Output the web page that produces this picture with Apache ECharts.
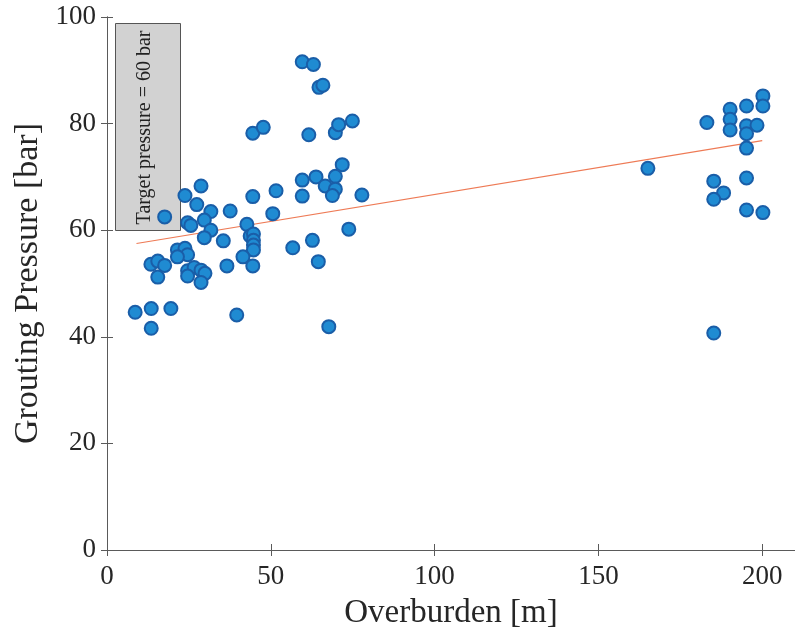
<!DOCTYPE html>
<html>
<head>
<meta charset="utf-8">
<script src="https://cdn.jsdelivr.net/npm/echarts@6/dist/echarts.min.js"></script>
<style>html,body{margin:0;padding:0;background:#fff;}#c{width:795px;height:638px;}</style>
</head>
<body>
<div id="c"></div>
<script>
const overburden = [59.6,63.0,64.7,65.9,44.5,47.7,61.6,69.7,70.7,74.9,71.8,59.6,63.8,69.7,66.6,69.7,68.8,59.6,77.8,51.6,44.5,28.7,23.8,27.4,31.7,37.6,50.6,17.6,24.6,25.6,29.7,31.7,29.7,42.7,43.7,44.7,44.7,44.7,44.7,35.5,56.7,62.7,73.8,21.5,23.8,24.6,21.5,41.5,44.5,36.6,13.4,15.5,17.6,15.5,24.6,26.6,24.6,28.7,29.9,28.7,64.5,8.6,13.5,19.5,13.5,39.6,67.7,165.1,183.1,190.2,190.2,190.2,195.2,195.2,195.2,198.4,200.2,200.2,195.2,185.2,188.2,185.2,195.2,195.2,200.2,185.2];
const pressure = [91.6,91.1,86.8,87.2,78.2,79.3,77.9,78.3,79.8,80.5,72.3,69.4,70.0,70.1,68.3,67.7,66.5,66.4,66.6,67.4,66.3,68.3,66.5,64.8,63.5,63.6,63.1,62.5,61.4,60.9,61.9,60.0,58.6,61.1,58.9,59.3,58.1,57.2,56.3,58.0,56.7,58.1,60.2,56.3,56.6,55.4,55.0,55.0,53.3,53.3,53.6,54.2,53.4,51.2,52.4,53.0,51.4,52.5,51.9,50.2,54.1,44.6,45.3,45.3,41.6,44.1,41.9,71.6,80.2,82.7,80.8,78.8,83.3,79.6,78.1,79.7,85.2,83.3,75.4,69.2,67.0,65.8,69.8,63.8,63.3,40.7];
const trendX = [9, 200];
const trendY = [57.5, 76.8];
const xTicks = [0, 50, 100, 150, 200];
const yTicks = [0, 20, 40, 60, 80, 100];
const noteText = 'Target pressure = 60 bar';

const chart = echarts.init(document.getElementById('c'));
const serif = '"Liberation Serif", "DejaVu Serif", serif';
const axisCol = '#5a5a5a';
const labelCol = '#262626';

const pts = overburden.map((x, i) => [x, pressure[i]]);
const trend = trendX.map((x, i) => [x, trendY[i]]);

chart.setOption({
  animation: false,
  backgroundColor: '#fff',
  grid: { left: 107, top: 17, right: 0, bottom: 88, containLabel: false },
  xAxis: [{
    type: 'value', min: 0, max: 210, interval: 50,
    name: 'Overburden [m]', nameLocation: 'middle', nameGap: 47,
    nameTextStyle: { fontFamily: serif, fontSize: 33, color: labelCol },
    axisLine: { show: true, lineStyle: { color: axisCol, width: 1 } },
    axisTick: { show: true, inside: true, length: 6, lineStyle: { color: axisCol }, customValues: xTicks },
    axisLabel: { fontFamily: serif, fontSize: 27, color: labelCol, margin: 13, customValues: xTicks },
    splitLine: { show: false }
  }, {
    type: 'value', min: 0, max: 210, position: 'top',
    axisLine: { show: true, lineStyle: { color: axisCol, width: 1 } },
    axisTick: { show: true, inside: true, length: 6, lineStyle: { color: axisCol }, customValues: xTicks },
    axisLabel: { show: false },
    splitLine: { show: false }
  }],
  yAxis: [{
    type: 'value', min: 0, max: 100, interval: 20,
    name: 'Grouting Pressure [bar]', nameLocation: 'middle', nameGap: 60,
    nameTextStyle: { fontFamily: serif, fontSize: 34, color: labelCol },
    axisLine: { show: true, lineStyle: { color: axisCol, width: 1 } },
    axisTick: { show: true, inside: true, length: 6, lineStyle: { color: axisCol }, customValues: yTicks },
    axisLabel: { fontFamily: serif, fontSize: 27, color: labelCol, margin: 11, customValues: yTicks },
    splitLine: { show: false }
  }, {
    type: 'value', min: 0, max: 100, interval: 20, position: 'right',
    axisLine: { show: true, lineStyle: { color: axisCol, width: 1 } },
    axisTick: { show: true, inside: true, length: 6, lineStyle: { color: axisCol }, customValues: yTicks },
    axisLabel: { show: false },
    splitLine: { show: false }
  }],
  graphic: [{
    type: 'group', left: 115, top: 23, z: 0,
    children: [{
      type: 'rect', shape: { x: 0, y: 0, width: 65, height: 207 },
      style: { fill: '#d2d2d2', stroke: '#555', lineWidth: 1 }
    }, {
      type: 'text', x: 29, y: 104, rotation: Math.PI / 2,
      style: { text: noteText, font: '20px ' + serif, fill: '#222', align: 'center', verticalAlign: 'middle' }
    }]
  }],
  series: [{
    type: 'line', data: trend, showSymbol: false, symbol: 'none', z: 2,
    lineStyle: { color: '#EE7A55', width: 1.2 }
  }, {
    type: 'scatter', data: pts, symbol: 'circle', symbolSize: 13, z: 3,
    itemStyle: { color: '#1F8BD2', borderColor: '#1A5EA8', borderWidth: 2, opacity: 1 }
  }]
});
</script>
</body>
</html>
